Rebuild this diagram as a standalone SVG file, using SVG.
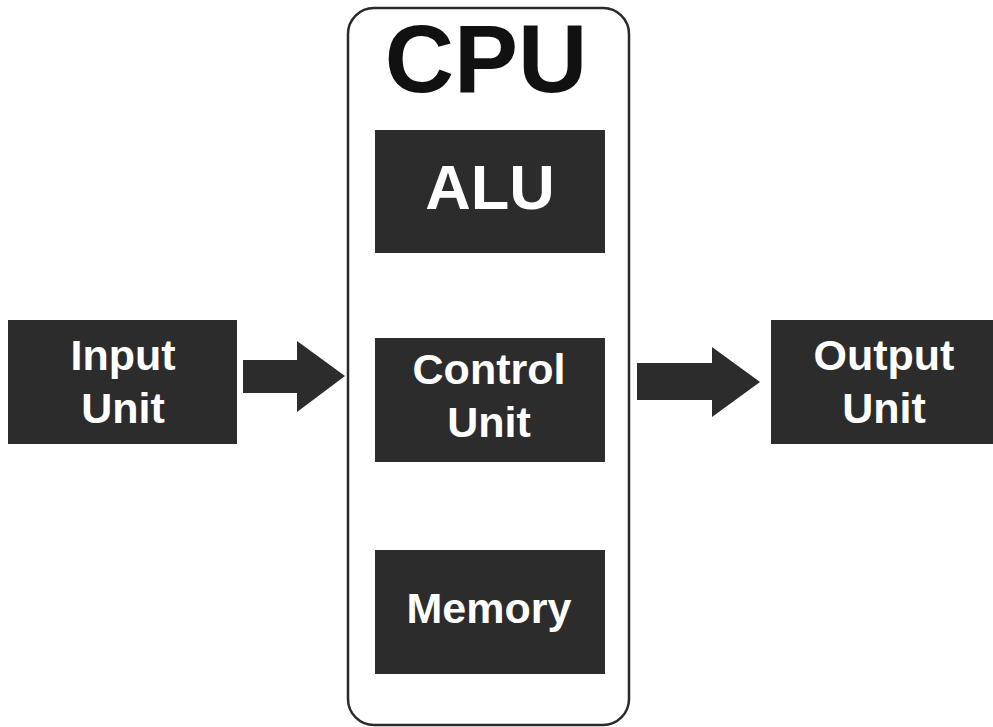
<svg xmlns="http://www.w3.org/2000/svg" width="993" height="727" viewBox="0 0 993 727">
<style>
.box{fill:#2c2c2c}
.lbl{fill:#fff;font-family:"Liberation Sans",Arial,sans-serif;font-weight:bold;text-anchor:middle}
.arrow{fill:#2c2c2c}
</style>
<rect width="993" height="727" fill="#fff"/>
<g id="cpu">
<rect x="348" y="8" width="281" height="717" rx="26" ry="26" fill="#fff" stroke="#2a2a2a" stroke-width="2.5"/>
<text x="486" y="92" font-family="Liberation Sans,Arial,sans-serif" font-weight="bold" font-size="96" text-anchor="middle" fill="#111">CPU</text>
</g>
<g id="alu">
<rect class="box" x="375" y="130" width="230" height="123"/>
<text class="lbl" x="490" y="209" font-size="63">ALU</text>
</g>
<g id="control">
<rect class="box" x="375" y="338" width="230" height="124"/>
<text class="lbl" x="489" y="384" font-size="43">Control</text>
<text class="lbl" x="489" y="437" font-size="43">Unit</text>
</g>
<g id="memory">
<rect class="box" x="375" y="550" width="230" height="124"/>
<text class="lbl" x="489" y="623" font-size="43">Memory</text>
</g>
<g id="input">
<rect class="box" x="8" y="320" width="229" height="124"/>
<text class="lbl" x="123" y="370" font-size="43">Input</text>
<text class="lbl" x="123" y="423" font-size="43">Unit</text>
</g>
<g id="output">
<rect class="box" x="771" y="320" width="222" height="124"/>
<text class="lbl" x="884" y="370" font-size="43">Output</text>
<text class="lbl" x="884" y="423" font-size="43">Unit</text>
</g>
<g id="connectors">
<polygon class="arrow" points="243,360 297,360 297,341 345,376 297,412 297,393 243,393"/>
<polygon class="arrow" points="637,363 712,363 712,347 760,382 712,417 712,400 637,400"/>
</g>
</svg>
